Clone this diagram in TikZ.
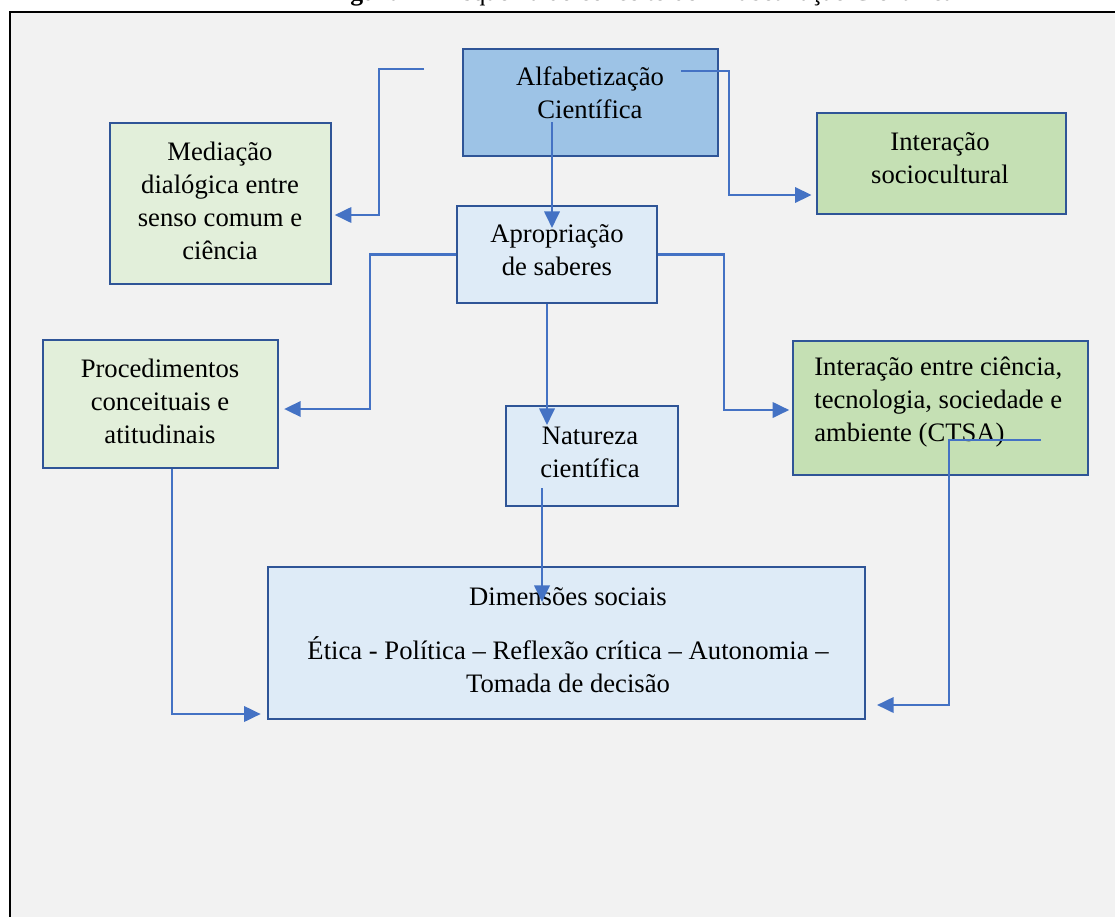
\documentclass[tikz,border=0pt]{standalone}
\usepackage{fontspec}
\setmainfont{Liberation Serif}
\usepackage{tikz}
\usepackage{xcolor}
\usetikzlibrary{arrows.meta,fit}
\definecolor{bgray}{HTML}{F2F2F2}
\definecolor{boxline}{HTML}{2F5597}
\definecolor{arrline}{HTML}{4472C4}
\definecolor{midblue}{HTML}{9DC3E6}
\definecolor{paleblue}{HTML}{DEEBF7}
\definecolor{palegreen}{HTML}{E2EFDA}
\definecolor{midgreen}{HTML}{C5E0B4}

\begin{document}
\begin{tikzpicture}[x=0.424pt,y=-0.424pt,
  box/.style={draw=boxline,line width=1.2pt,inner sep=0pt},
  txt/.style={align=center,font=\fontsize{11.3}{14}\selectfont},
  arr/.style={draw=arrline,line width=1pt,-{Triangle[length=7pt,width=6.5pt]}}]
\useasboundingbox (0,0) rectangle (1115,916);
\draw[line width=0.9pt,fill=bgray] (10,12) rectangle (1140,940);
\node[anchor=base,font=\fontsize{10.9}{13}\selectfont] (cap) at (641,0) {\textbf{Figura 1} – Esquema do conceito de Alfabetização Científica};

\node[box,fill=midblue,fit={(463,49) (718,156)}] (alf) {};
\node[txt] (alf-t) at (590,93) {Alfabetização\\Científica};
\node[box,fill=palegreen,fit={(110,123) (331,284)}] (med) {};
\node[txt] (med-t) at (220,201) {Mediação\\dialógica entre\\senso comum e\\ciência};
\node[box,fill=midgreen,fit={(817,113) (1066,214)}] (soc) {};
\node[txt] (soc-t) at (940,158) {Interação\\sociocultural};
\node[box,fill=paleblue,fit={(457,206) (657,303)}] (apr) {};
\node[txt] (apr-t) at (557,250) {Apropriação\\de saberes};
\node[box,fill=palegreen,fit={(43,340) (278,468)}] (proc) {};
\node[txt] (proc-t) at (160,401) {Procedimentos\\conceituais e\\atitudinais};
\node[box,fill=midgreen,fit={(793,341) (1088,475)}] (ctsa) {};
\node[txt,align=left,anchor=west] (ctsa-t) at (806,402) {Interação entre ciência,\\tecnologia, sociedade e\\ambiente (CTSA)};
\node[box,fill=paleblue,fit={(506,406) (678,506)}] (nat) {};
\node[txt] (nat-t) at (590,452) {Natureza\\científica};
\node[box,fill=paleblue,fit={(268,567) (865,719)}] (dim) {};
\node[txt] (dim-t) at (568,640) {Dimensões sociais\\[9pt]Ética - Política – Reflexão crítica – Autonomia –\\Tomada de decisão};

\coordinate (m0) at (424,69);
\coordinate (s0) at (681,71);
\coordinate (a0) at (552,122);
\coordinate (a1) at (552,228);
\coordinate (n0) at (547,425);
\coordinate (d0) at (542,488);
\coordinate (d1) at (542,602);
\coordinate (c0) at (1041,440);
\draw[arr,shorten >=1pt] (m0) -- (379,69) |- (med.east|-0,215);
\draw[arr,shorten >=1.7pt] (s0) -| (729,195) -- (soc.west|-0,195);
\draw[arr] (a0) -- (a1);
\draw[arr,shorten >=2pt] (apr.west) -| (370,409) -- (proc.east|-0,409);
\draw[arr,shorten >=1pt] (apr.east) -| (724,410) -- (ctsa.west|-0,410);
\draw[arr] (apr.south-|n0) -- (n0);
\draw[arr] (d0) -- (d1);
\draw[arr,shorten >=2.5pt] (proc.south-|172,0) |- (dim.west|-0,714);
\draw[arr,shorten >=4.5pt] (c0) -| (949,705) -- (dim.east|-0,705);
\end{tikzpicture}
\end{document}
